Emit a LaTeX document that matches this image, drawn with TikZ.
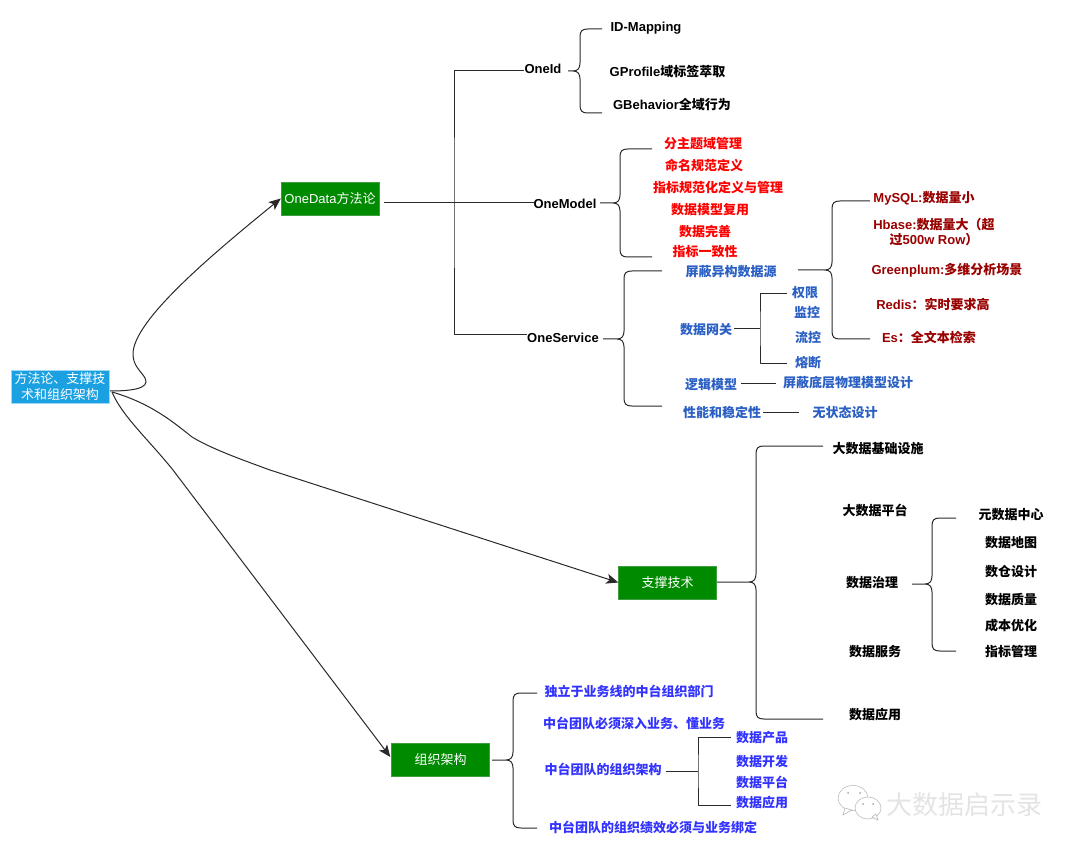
\documentclass[tikz,border=0pt]{standalone}
\usepackage{fontspec}
\setmainfont{Liberation Sans}
\newfontfamily\cjk{Noto Sans CJK SC}
\newcommand\zh[1]{{\cjk #1}}
\usetikzlibrary{arrows.meta,calc}
\definecolor{rootfill}{HTML}{1BA1E2}
\definecolor{rootline}{HTML}{9FD8F5}
\definecolor{greenfill}{HTML}{008A00}
\definecolor{greenline}{HTML}{3E9E3E}
\definecolor{linecol}{HTML}{2A2A2A}
\definecolor{redtxt}{HTML}{FF0000}
\definecolor{darkred}{HTML}{990000}
\definecolor{bluetxt}{HTML}{2A5FC4}
\definecolor{violet}{HTML}{3333FF}
\definecolor{wm}{HTML}{E4E4E4}
\tikzset{
  x=1pt,y=-1pt,
  conn/.style={draw=linecol,line width=1pt,line join=round},
  flow/.style={conn,-{Stealth[length=12pt,width=10pt,inset=3pt]}},
  box/.style={draw,minimum width=98pt,inner sep=0pt,align=center,text=white,
     font=\fontsize{13}{16.5}\selectfont},
  rootbox/.style={box,fill=rootfill,draw=rootline,minimum height=33pt},
  greenbox/.style={box,fill=greenfill,draw=greenline,minimum height=33pt},
  lab/.style={inner sep=0pt,align=center,yshift=-0.7pt,font=\fontsize{13}{15}\selectfont\bfseries},
  blk/.style={lab,text=black},
  rd/.style={lab,text=redtxt},
  drd/.style={lab,text=darkred},
  blu/.style={lab,text=bluetxt},
  vio/.style={lab,text=violet},
}
% curly brace: #1 start, #2 distance from start to spine, #3 top end, #4 bottom end
\newcommand\curly[4]{%
  \draw[conn] let \p1=(#1),\p2=(#3),\p3=(#4),\n1={\x1+#2} in
    (\p1) -- ({\n1-7pt},\y1)
    .. controls ({\n1-2pt},\y1) and (\n1,{\y1+3pt}) .. (\n1,{\y1+8pt})
    -- (\n1,{\y2-8pt})
    .. controls (\n1,{\y2-2pt}) and ({\n1+2pt},\y2) .. ({\n1+8pt},\y2)
    -- (\p2)
    (\n1-7pt,\y1)
    .. controls ({\n1-2pt},\y1) and (\n1,{\y1-3pt}) .. (\n1,{\y1-8pt})
    -- (\n1,{\y3+8pt})
    .. controls (\n1,{\y3+2pt}) and ({\n1+2pt},\y3) .. ({\n1+8pt},\y3)
    -- (\p3);}
\begin{document}
\begin{tikzpicture}
\useasboundingbox (0,0) rectangle (1080,853);
\fill[white] (0,0) rectangle (1080,853);

% main boxes
\node[rootbox]  (root) at (60,386.5) {\zh{方法论、支撑技}\\\zh{术和组织架构}};
\node[greenbox] (onedata) at (330,198.5) {OneData\zh{方法论}};
\node[greenbox] (support) at (667.5,582.5) {\zh{支撑技术}};
\node[greenbox] (org) at (440.5,760) {\zh{组织架构}};

% OneData branches
\node[blk] (oneid) at (543,68) {OneId};
\node[blk] (onemodel) at (565,203) {OneModel};
\node[blk] (oneservice) at (563,337) {OneService};

\node[blk] (idm) at (646,27) {ID-Mapping};
\node[blk] (gprofile) at (667.5,71) {GProfile\zh{域标签萃取}};
\node[blk] (gbehavior) at (672,104) {GBehavior\zh{全域行为}};

\node[rd] (m1) at (703,143) {\zh{分主题域管理}};
\node[rd] (m2) at (704,164.5) {\zh{命名规范定义}};
\node[rd] (m3) at (718,187) {\zh{指标规范化定义与管理}};
\node[rd] (m4) at (710,209) {\zh{数据模型复用}};
\node[rd] (m5) at (705,231) {\zh{数据完善}};
\node[rd] (m6) at (705,251) {\zh{指标一致性}};

\node[blu] (s1) at (731,271) {\zh{屏蔽异构数据源}};
\node[blu] (s2) at (706,329) {\zh{数据网关}};
\node[blu] (s3) at (711,384) {\zh{逻辑模型}};
\node[blu] (s4) at (722,412) {\zh{性能和稳定性}};
\node[blu] (g1) at (805,292) {\zh{权限}};
\node[blu] (g2) at (807,312) {\zh{监控}};
\node[blu] (g3) at (808,337) {\zh{流控}};
\node[blu] (g4) at (808,362) {\zh{熔断}};
\node[blu] (s3a) at (848,382) {\zh{屏蔽底层物理模型设计}};
\node[blu] (s4a) at (845,412) {\zh{无状态设计}};

\node[drd] (d1) at (924,198) {MySQL:\zh{数据量小}};
\node[drd] (d2) at (934,231.5) {Hbase:\zh{数据量大（超}\\\zh{过}500w Row\zh{）}};
\node[drd] (d3) at (947,270) {Greenplum:\zh{多维分析场景}};
\node[drd] (d4) at (933,304) {Redis\zh{：实时要求高}};
\node[drd] (d5) at (929,337) {Es\zh{：全文本检索}};

% support branches
\node[blk] (t1) at (878,448) {\zh{大数据基础设施}};
\node[blk] (t2) at (875,510) {\zh{大数据平台}};
\node[blk] (t3) at (872,582) {\zh{数据治理}};
\node[blk] (t4) at (875,651) {\zh{数据服务}};
\node[blk] (t5) at (875,714) {\zh{数据应用}};
\node[blk] (q1) at (1011,514) {\zh{元数据中心}};
\node[blk] (q2) at (1011,542) {\zh{数据地图}};
\node[blk] (q3) at (1011,571) {\zh{数仓设计}};
\node[blk] (q4) at (1011,599) {\zh{数据质量}};
\node[blk] (q5) at (1011,625) {\zh{成本优化}};
\node[blk] (q6) at (1011,651) {\zh{指标管理}};

% organisation branches
\node[vio] (o1) at (629,691) {\zh{独立于业务线的中台组织部门}};
\node[vio] (o2) at (634,723) {\zh{中台团队必须深入业务、懂业务}};
\node[vio] (o3) at (603,769) {\zh{中台团队的组织架构}};
\node[vio] (o4) at (653,827) {\zh{中台团队的组织绩效必须与业务绑定}};
\node[vio] (r1) at (762,737) {\zh{数据产品}};
\node[vio] (r2) at (762,761) {\zh{数据开发}};
\node[vio] (r3) at (762,782) {\zh{数据平台}};
\node[vio] (r4) at (762,802) {\zh{数据应用}};

% free ends
\coordinate (rootOut) at (110,391);
\coordinate (rootOutB) at (112,392);
\coordinate (odOut) at (384,203);
\coordinate (odJoin) at (454,203);
\coordinate (idIn) at (524,71);
\coordinate (svcIn) at (527,335);
\coordinate (modelIn) at (534,203);

\coordinate (b1s) at (568,71);   \coordinate (b1t) at (602,29);  \coordinate (b1b) at (602,113);
\coordinate (b2s) at (600,203);  \coordinate (b2t) at (652,149); \coordinate (b2b) at (652,257);
\coordinate (b3s) at (603,339);  \coordinate (b3t) at (662,271); \coordinate (b3b) at (662,406);
\coordinate (b4s) at (798,270);  \coordinate (b4t) at (870,201); \coordinate (b4b) at (870,339);
\coordinate (b5s) at (717,582);  \coordinate (b5t) at (823,446); \coordinate (b5b) at (823,719);
\coordinate (b6s) at (912,584);  \coordinate (b6t) at (956,518); \coordinate (b6b) at (956,651);
\coordinate (b7s) at (492,760);  \coordinate (b7t) at (537,693); \coordinate (b7b) at (537,828);

\coordinate (g0) at (734,329);   \coordinate (gJ) at (760,329);
\coordinate (gT) at (787,294);   \coordinate (gB) at (787,363);
\coordinate (l0) at (741,383);   \coordinate (l1) at (776,383);
\coordinate (p0) at (763,412);   \coordinate (p1) at (799,412);
\coordinate (h0) at (666,771);   \coordinate (hJ) at (698,771);
\coordinate (hT) at (731,737);   \coordinate (hB) at (731,805);

% curved arrows
\draw[flow] (rootOut) .. controls (130,391) and (151,389) .. (145,378)
  .. controls (141,371) and (133,366) .. (133,354)
  .. controls (133,322) and (205,260) .. (onedata.west);
\draw[flow] (rootOutB) .. controls (150,403) and (172,421) .. (192,437)
  .. controls (212,449) and (240,459) .. (270,470)
  -- (support.west);
\draw[flow] (rootOutB) .. controls (122,416) and (148,439) .. (173,470)
  -- ($(org.west)+(-1,-3)$);

% OneData tree
\draw[conn] (odOut) -- (modelIn);
\draw[conn] (idIn) -| (odJoin) |- (svcIn);

% braces
\curly{b1s}{12pt}{b1t}{b1b}
\curly{b2s}{20pt}{b2t}{b2b}
\curly{b3s}{21pt}{b3t}{b3b}
\curly{b4s}{34pt}{b4t}{b4b}
\curly{b5s}{39pt}{b5t}{b5b}
\curly{b6s}{20pt}{b6t}{b6b}
\curly{b7s}{21pt}{b7t}{b7b}

% trees and plain links
\draw[conn] (g0) -- (gJ) (gT) -| (gJ) |- (gB);
\draw[conn] (l0) -- (l1);
\draw[conn] (p0) -- (p1);
\draw[conn] (h0) -- (hJ) (hT) -| (hJ) |- (hB);

% watermark
\begin{scope}[draw=black!30,line width=.5pt,fill=white]
  \filldraw (853,798) ellipse [x radius=15,y radius=12.5];
  \filldraw (845,808) -- (843,815) -- (852,810) -- cycle;
  \filldraw (868,808) ellipse [x radius=13,y radius=11];
  \filldraw (872,817) -- (878,820) -- (876,814) -- cycle;
\end{scope}
\fill[black!35] (848,793) circle (1) (860,793) circle (1) (863,804) circle (1) (873,804) circle (1);
\node[inner sep=0pt,text=wm,font=\fontsize{26}{28}\selectfont] (wmk) at (964.5,805) {\zh{大数据启示录}};
\end{tikzpicture}
\end{document}
